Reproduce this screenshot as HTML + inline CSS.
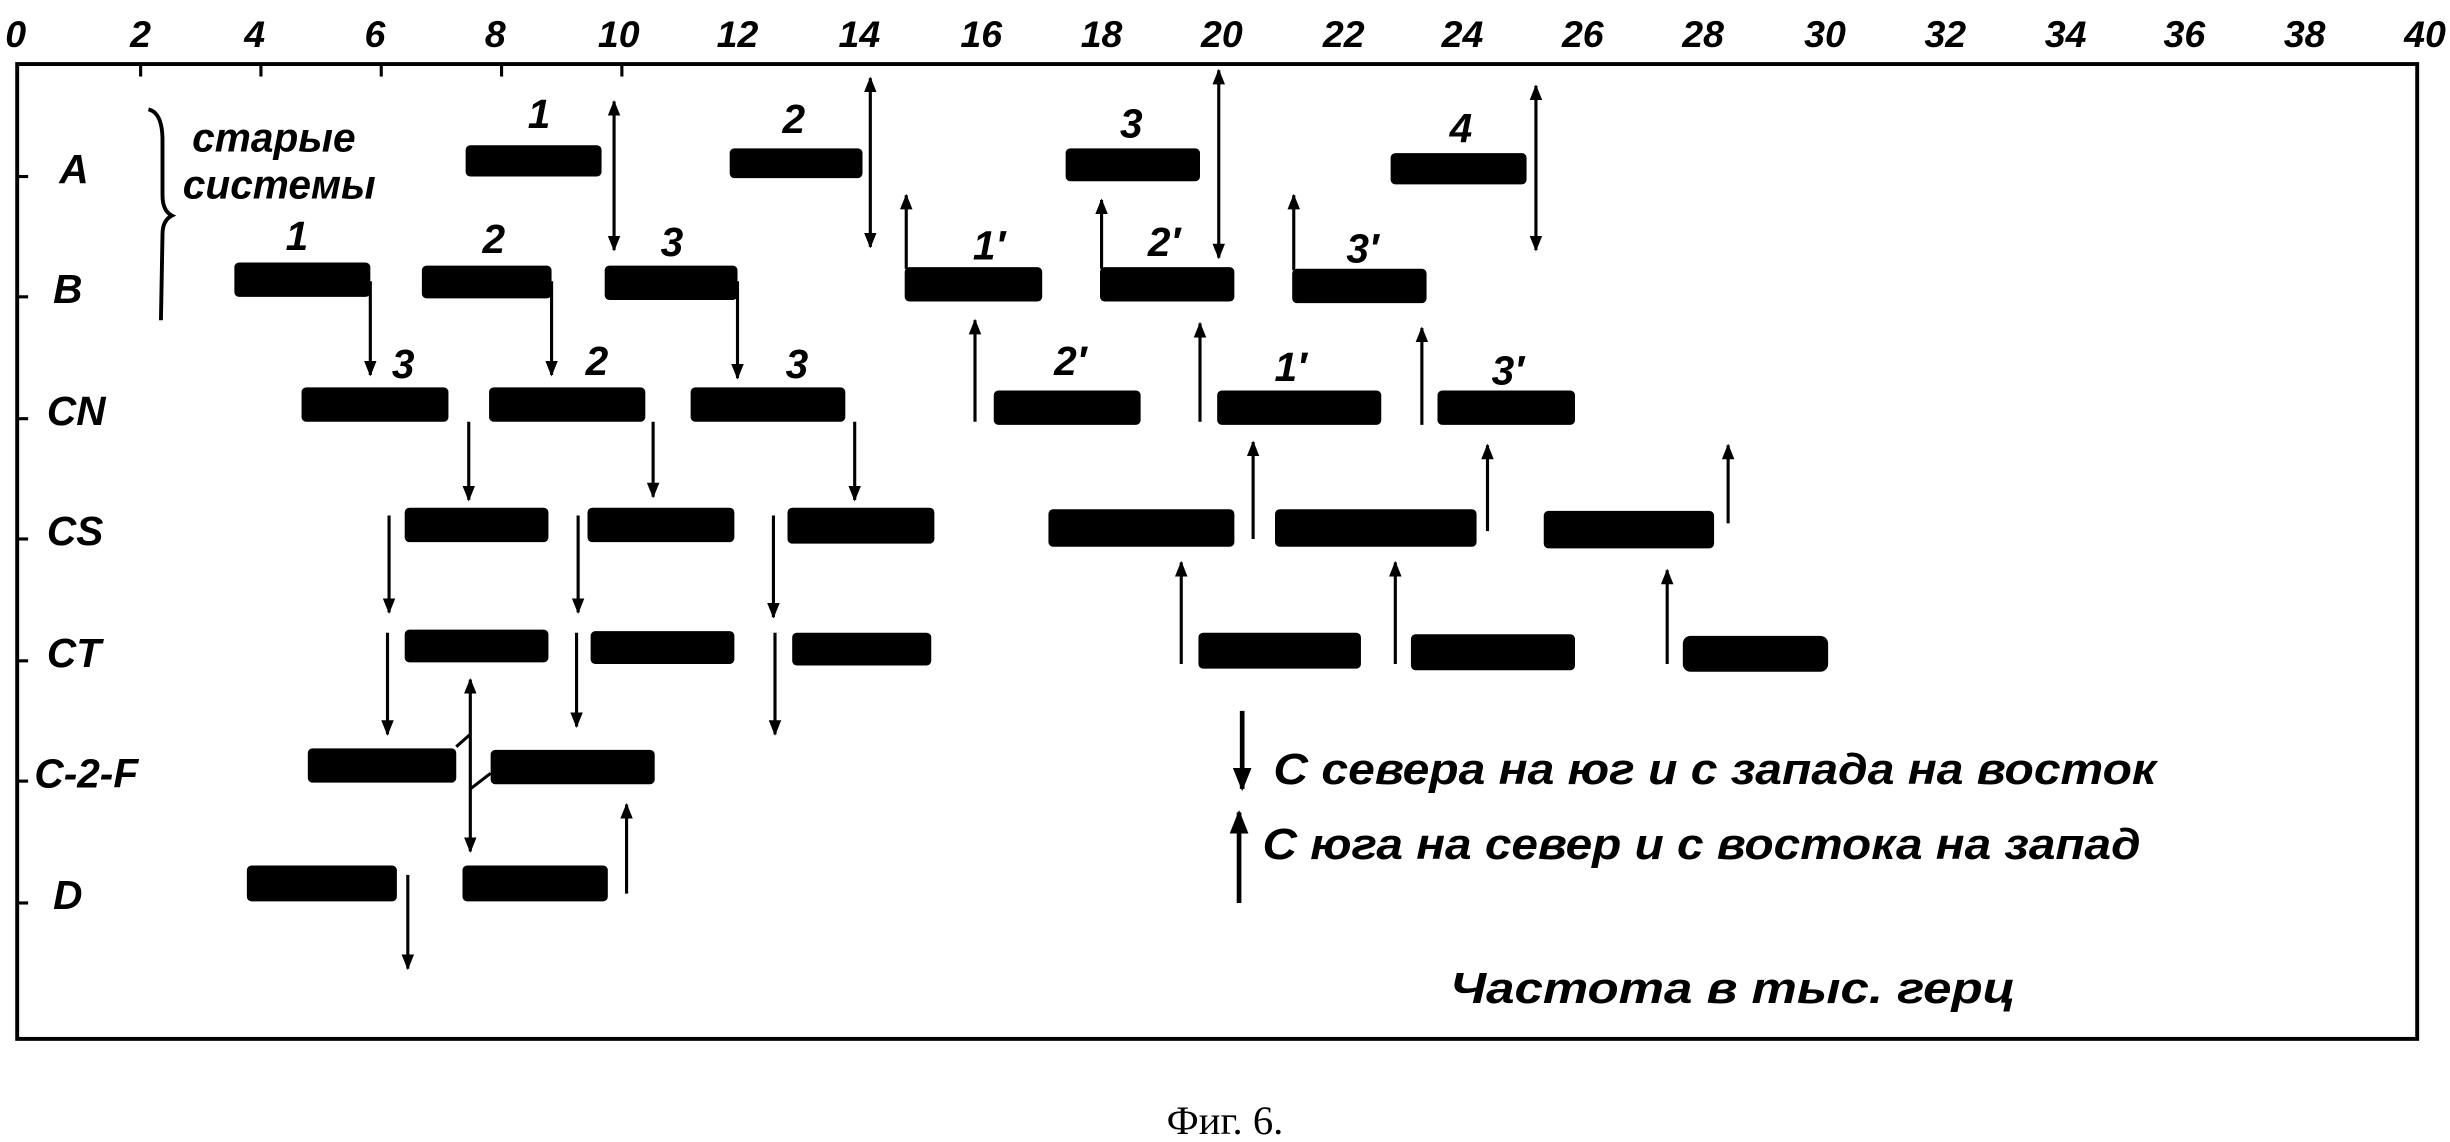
<!DOCTYPE html>
<html><head><meta charset="utf-8"><style>
html,body{margin:0;padding:0;background:#fff;}
svg{display:block;}
text{font-family:"Liberation Sans",sans-serif;font-style:italic;font-weight:bold;fill:#000;}
</style></head><body>
<svg width="2450" height="1142" viewBox="0 0 1568 731" preserveAspectRatio="none" xmlns="http://www.w3.org/2000/svg">
<defs>
<marker id="ah" viewBox="0 0 10 10" refX="9" refY="5" markerWidth="5" markerHeight="6" orient="auto-start-reverse"><path d="M0,1 L10,5 L0,9 z" fill="#000"/></marker>
</defs>
<g font-size="24" text-anchor="middle">
<text x="10" y="30">0</text><text x="90" y="30">2</text><text x="163" y="30">4</text><text x="240" y="30">6</text><text x="317" y="30">8</text><text x="396" y="30">10</text>
<text x="472" y="30">12</text><text x="550" y="30">14</text><text x="628" y="30">16</text><text x="705" y="30">18</text><text x="782" y="30">20</text>
<text x="860" y="30">22</text><text x="936" y="30">24</text><text x="1013" y="30">26</text><text x="1090" y="30">28</text><text x="1168" y="30">30</text>
<text x="1245" y="30">32</text><text x="1322" y="30">34</text><text x="1398" y="30">36</text><text x="1475" y="30">38</text><text x="1552" y="30">40</text>
</g>
<rect x="11" y="41" width="1536" height="624" fill="none" stroke="#000" stroke-width="2.5"/>
<g stroke="#000" stroke-width="2">
<line x1="90" y1="41" x2="90" y2="49"/><line x1="167" y1="41" x2="167" y2="49"/><line x1="244" y1="41" x2="244" y2="49"/><line x1="321" y1="41" x2="321" y2="49"/><line x1="398" y1="41" x2="398" y2="49"/>
<line x1="11" y1="113" x2="18" y2="113"/><line x1="11" y1="190" x2="18" y2="190"/><line x1="11" y1="268" x2="18" y2="268"/><line x1="11" y1="345" x2="18" y2="345"/><line x1="11" y1="423" x2="18" y2="423"/><line x1="11" y1="500" x2="18" y2="500"/><line x1="11" y1="578" x2="18" y2="578"/>
</g>
<g font-size="26">
<text x="38" y="117">A</text><text x="34" y="194">B</text><text x="30" y="272">CN</text><text x="30" y="349">CS</text><text x="30" y="427">CT</text><text x="22" y="504">C-2-F</text><text x="34" y="582">D</text>
</g>
<path d="M95,70 Q104,72 104,90 L104,125 Q104,135 110,138 Q104,141 104,150 L103,205" fill="none" stroke="#000" stroke-width="2.5"/>
<text x="123" y="97" font-size="26" font-weight="normal">старые</text>
<text x="117" y="127" font-size="26" font-weight="normal">системы</text>
<g fill="#000">
<rect x="298" y="93" width="87" height="20" rx="3"/><rect x="467" y="95" width="85" height="19" rx="3"/><rect x="682" y="95" width="86" height="21" rx="3"/><rect x="890" y="98" width="87" height="20" rx="3"/>
<rect x="150" y="168" width="87" height="22" rx="3"/><rect x="270" y="170" width="83" height="21" rx="3"/><rect x="387" y="170" width="85" height="22" rx="3"/><rect x="579" y="171" width="88" height="22" rx="3"/><rect x="704" y="171" width="86" height="22" rx="3"/><rect x="827" y="172" width="86" height="22" rx="3"/>
<rect x="193" y="248" width="94" height="22" rx="3"/><rect x="313" y="248" width="100" height="22" rx="3"/><rect x="442" y="248" width="99" height="22" rx="3"/><rect x="636" y="250" width="94" height="22" rx="3"/><rect x="779" y="250" width="105" height="22" rx="3"/><rect x="920" y="250" width="88" height="22" rx="3"/>
<rect x="259" y="325" width="92" height="22" rx="3"/><rect x="376" y="325" width="94" height="22" rx="3"/><rect x="504" y="325" width="94" height="23" rx="3"/><rect x="671" y="326" width="119" height="24" rx="3"/><rect x="816" y="326" width="129" height="24" rx="3"/><rect x="988" y="327" width="109" height="24" rx="3"/>
<rect x="259" y="403" width="92" height="21" rx="3"/><rect x="378" y="404" width="92" height="21" rx="3"/><rect x="507" y="405" width="89" height="21" rx="3"/><rect x="767" y="405" width="104" height="23" rx="3"/><rect x="903" y="406" width="105" height="23" rx="3"/><rect x="1077" y="407" width="93" height="23" rx="5"/>
<rect x="197" y="479" width="95" height="22" rx="3"/><rect x="314" y="480" width="105" height="22" rx="3"/>
<rect x="158" y="554" width="96" height="23" rx="3"/><rect x="296" y="554" width="93" height="23" rx="3"/>
</g>
<g font-size="26" text-anchor="middle">
<text x="345" y="82">1</text><text x="508" y="85">2</text><text x="724" y="88">3</text><text x="935" y="91">4</text>
<text x="190" y="160">1</text><text x="316" y="162">2</text><text x="430" y="164">3</text><text x="633" y="166">1′</text><text x="745" y="164">2′</text><text x="872" y="168">3′</text>
<text x="258" y="242">3</text><text x="382" y="240">2</text><text x="510" y="242">3</text><text x="685" y="240">2′</text><text x="826" y="244">1′</text><text x="965" y="246">3′</text>
</g>
<g stroke="#000" stroke-width="2" marker-end="url(#ah)" fill="none">
<line x1="393" y1="65" x2="393" y2="160" marker-start="url(#ah)"/>
<line x1="557" y1="50" x2="557" y2="158" marker-start="url(#ah)"/>
<line x1="780" y1="45" x2="780" y2="165" marker-start="url(#ah)"/>
<line x1="983" y1="55" x2="983" y2="160" marker-start="url(#ah)"/>
<line x1="580" y1="172" x2="580" y2="125"/><line x1="705" y1="172" x2="705" y2="128"/><line x1="828" y1="173" x2="828" y2="125"/>
<line x1="237" y1="180" x2="237" y2="240"/><line x1="353" y1="180" x2="353" y2="240"/><line x1="472" y1="180" x2="472" y2="242"/>
<line x1="624" y1="270" x2="624" y2="205"/><line x1="768" y1="270" x2="768" y2="207"/><line x1="910" y1="272" x2="910" y2="210"/>
<line x1="300" y1="270" x2="300" y2="320"/><line x1="418" y1="270" x2="418" y2="318"/><line x1="547" y1="270" x2="547" y2="320"/>
<line x1="802" y1="345" x2="802" y2="283"/><line x1="952" y1="340" x2="952" y2="285"/><line x1="1106" y1="335" x2="1106" y2="285"/>
<line x1="249" y1="330" x2="249" y2="392"/><line x1="370" y1="330" x2="370" y2="392"/><line x1="495" y1="330" x2="495" y2="395"/>
<line x1="756" y1="425" x2="756" y2="360"/><line x1="893" y1="425" x2="893" y2="360"/><line x1="1067" y1="425" x2="1067" y2="365"/>
<line x1="248" y1="405" x2="248" y2="470"/><line x1="369" y1="405" x2="369" y2="465"/><line x1="496" y1="405" x2="496" y2="470"/>
<line x1="301" y1="435" x2="301" y2="545" marker-start="url(#ah)"/>
<line x1="401" y1="572" x2="401" y2="515"/>
<line x1="261" y1="560" x2="261" y2="620"/>
<line x1="795" y1="455" x2="795" y2="505" stroke-width="3"/>
<line x1="793" y1="578" x2="793" y2="520" stroke-width="3"/>
</g>
<path d="M292,478 L301,470 M301,505 L314,495" stroke="#000" stroke-width="2" fill="none"/>
<g font-size="28" font-weight="normal">
<text x="815" y="502" textLength="565" lengthAdjust="spacingAndGlyphs">С севера на юг и с запада на восток</text>
<text x="808" y="550" textLength="562" lengthAdjust="spacingAndGlyphs">С юга на север и с востока на запад</text>
<text x="928" y="642" textLength="362" lengthAdjust="spacingAndGlyphs">Частота  в тыс. герц</text>
</g>
<text x="784" y="726" font-size="26" text-anchor="middle" style="font-family:'Liberation Serif',serif;font-style:normal;font-weight:normal">Фиг. 6.</text>
</svg>
</body></html>
